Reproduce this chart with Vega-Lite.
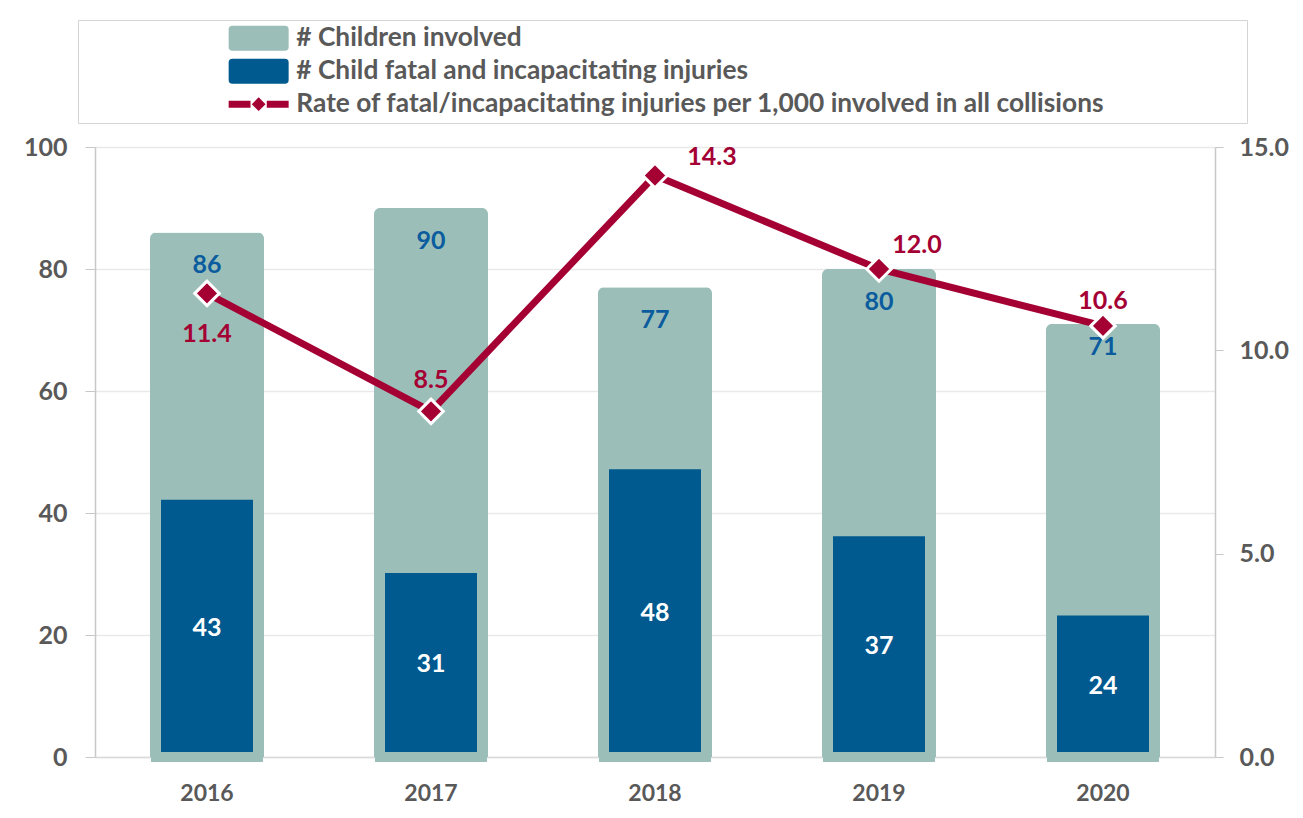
{
  "$schema": "https://vega.github.io/schema/vega-lite/v6.json",
  "width": 1120,
  "height": 610,
  "autosize": {"type": "none"},
  "padding": {"left": 95, "top": 147, "right": 88, "bottom": 61},
  "background": "white",
  "data": {"values": [
    {"year": "2016", "involved": 86, "fatal": 43, "rate": 11.4},
    {"year": "2017", "involved": 90, "fatal": 31, "rate": 8.5},
    {"year": "2018", "involved": 77, "fatal": 48, "rate": 14.3},
    {"year": "2019", "involved": 80, "fatal": 37, "rate": 12.0},
    {"year": "2020", "involved": 71, "fatal": 24, "rate": 10.6}
  ]},
  "encoding": {
    "x": {
      "field": "year", "type": "nominal",
      "scale": {"paddingInner": 0, "paddingOuter": 0},
      "axis": {"title": null, "labelAngle": 0, "ticks": false, "labelPadding": 25, "labelFontSize": 23, "domainColor": "#d9d9d9", "domainWidth": 1.5}
    }
  },
  "layer": [
    {
      "encoding": {
        "y": {"type": "quantitative", "scale": {"domain": [0, 100]}, "axis": {"title": null, "orient": "left", "values": [0, 20, 40, 60, 80, 100], "grid": true, "gridColor": "#e9e9e9", "gridWidth": 1.5, "domainColor": "#c8c8c8", "domainWidth": 1.5, "tickColor": "#c8c8c8", "tickSize": 10, "labelPadding": 18}}
      },
      "layer": [
        {
          "mark": {"type": "bar", "width": 114, "cornerRadiusTopLeft": 6, "cornerRadiusTopRight": 6},
          "encoding": {
            "y": {"field": "involved", "type": "quantitative"},
            "color": {
              "datum": "# Children involved",
              "scale": {"domain": ["# Children involved", "# Child fatal and incapacitating injuries", "Rate of fatal/incapacitating injuries per 1,000 involved in all collisions"], "range": ["#9bbfb8", "#00598f", "#a50034"]},
              "legend": {
                "title": null,
                "orient": "none", "legendX": -17, "legendY": -127,
                "padding": 5, "fillColor": "white", "strokeColor": "#d4d4d4",
                "symbolOffset": 145, "labelOffset": 42, "symbolSize": 625, "symbolType": "square",
                "labelFont": "Lato", "labelFontSize": 26.3, "labelFontWeight": "bold", "labelColor": "#595959", "labelLimit": 1000,
                "rowPadding": 6,
                "encode": {"symbols": {"update": {
                  "shape": {"signal": "datum.value === 'Rate of fatal/incapacitating injuries per 1,000 involved in all collisions' ? 'M-1,-0.28H0.75V0.28H-1Z M0.85,0L1.4,-0.55L1.95,0L1.4,0.55Z M2.05,-0.28H3.8V0.28H2.05Z M80,0' : 'M-0.7,-1H3.5Q3.8,-1,3.8,-0.7V0.7Q3.8,1,3.5,1H-0.7Q-1,1,-1,0.7V-0.7Q-1,-1,-0.7,-1Z'"},
                  "fill": {"signal": "scale('color', datum.value)"},
                  "stroke": {"value": "transparent"},
                  "strokeWidth": {"value": 0},
                  "opacity": {"value": 1}
                }}}
              }
            }
          }
        },
        {
          "mark": {"type": "bar", "width": 102, "stroke": "#9bbfb8", "strokeWidth": 10},
          "encoding": {
            "y": {"field": "fatal", "type": "quantitative"},
            "color": {"datum": "# Child fatal and incapacitating injuries"}
          }
        },
        {
          "mark": {"type": "text", "baseline": "middle", "dy": 33, "color": "#0b5c9e"},
          "transform": [{"filter": "datum.year != '2020'"}],
          "encoding": {"y": {"field": "involved", "type": "quantitative"}, "text": {"field": "involved"}}
        },
        {
          "mark": {"type": "text", "baseline": "middle", "dy": 23, "color": "#0b5c9e"},
          "transform": [{"filter": "datum.year == '2020'"}],
          "encoding": {"y": {"field": "involved", "type": "quantitative"}, "text": {"field": "involved"}}
        }
      ]
    },
    {
      "encoding": {
        "y": {"type": "quantitative", "scale": {"domain": [0, 15]}, "axis": {"title": null, "orient": "right", "values": [0, 5, 10, 15], "format": ".1f", "grid": false, "domainColor": "#c8c8c8", "domainWidth": 1.5, "tickColor": "#c8c8c8", "tickSize": 8, "labelPadding": 16}}
      },
      "layer": [
        {
          "mark": {"type": "line", "strokeWidth": 7},
          "encoding": {"y": {"field": "rate", "type": "quantitative"}, "color": {"datum": "Rate of fatal/incapacitating injuries per 1,000 involved in all collisions"}}
        },
        {
          "mark": {"type": "point", "shape": "diamond", "filled": true, "size": 600, "fill": "#a50034", "stroke": "white", "strokeWidth": 3, "opacity": 1},
          "encoding": {"y": {"field": "rate", "type": "quantitative"}}
        },
        {
          "mark": {"type": "text", "baseline": "middle", "dy": 41, "color": "#a50034"},
          "transform": [{"filter": "datum.year == '2016'"}],
          "encoding": {"y": {"field": "rate", "type": "quantitative"}, "text": {"field": "rate", "format": ".1f"}}
        },
        {
          "mark": {"type": "text", "baseline": "middle", "dy": -31, "color": "#a50034"},
          "transform": [{"filter": "datum.year == '2017'"}],
          "encoding": {"y": {"field": "rate", "type": "quantitative"}, "text": {"field": "rate", "format": ".1f"}}
        },
        {
          "mark": {"type": "text", "baseline": "middle", "dx": 57, "dy": -18, "color": "#a50034"},
          "transform": [{"filter": "datum.year == '2018'"}],
          "encoding": {"y": {"field": "rate", "type": "quantitative"}, "text": {"field": "rate", "format": ".1f"}}
        },
        {
          "mark": {"type": "text", "baseline": "middle", "dx": 38, "dy": -24, "color": "#a50034"},
          "transform": [{"filter": "datum.year == '2019'"}],
          "encoding": {"y": {"field": "rate", "type": "quantitative"}, "text": {"field": "rate", "format": ".1f"}}
        },
        {
          "mark": {"type": "text", "baseline": "middle", "dy": -25, "color": "#a50034"},
          "transform": [{"filter": "datum.year == '2020'"}],
          "encoding": {"y": {"field": "rate", "type": "quantitative"}, "text": {"field": "rate", "format": ".1f"}}
        }
      ]
    },
    {
      "mark": {"type": "text", "baseline": "middle", "dy": 2, "color": "white"},
      "encoding": {
        "y": {"field": "fatal", "type": "quantitative", "scale": {"domain": [0, 200]}, "axis": null},
        "text": {"field": "fatal"}
      }
    }
  ],
  "resolve": {"scale": {"y": "independent"}, "axis": {"y": "independent"}},
  "config": {
    "font": "Lato",
    "view": {"stroke": null},
    "text": {"font": "Lato", "fontWeight": "bold", "fontSize": 25},
    "axis": {"labelFont": "Lato", "labelFontWeight": "bold", "labelFontSize": 25, "labelColor": "#595959"},
    "legend": {"titleFont": "Lato"}
  }
}
